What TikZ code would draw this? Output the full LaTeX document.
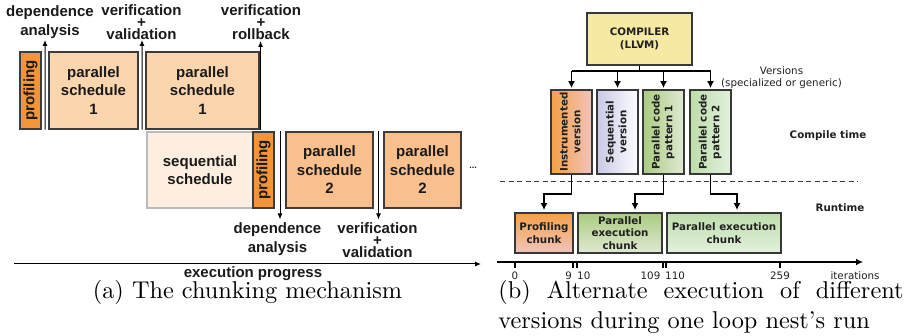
\documentclass[tikz,border=0pt]{standalone}
\usepackage{fontspec}
\newfontfamily\arialike{Liberation Sans}
\newfontfamily\dvs{DejaVu Sans}
\usetikzlibrary{arrows.meta,calc}

% left panel colours
\definecolor{profor}{HTML}{F39436}
\definecolor{parone}{HTML}{FBD5AE}
\definecolor{partwo}{HTML}{F9BF8D}
\definecolor{seqfill}{HTML}{FDEEE0}
\definecolor{seqborder}{HTML}{BBBBBB}
\definecolor{lborder}{HTML}{3C3C3C}
\definecolor{ltext}{HTML}{1A1A1A}
% right panel colours
\definecolor{rborder}{HTML}{383838}
\definecolor{rtext}{HTML}{202020}
\definecolor{compfill}{HTML}{F5E9A3}
\definecolor{instA}{HTML}{F5A048}
\definecolor{instB}{HTML}{F0C4BC}
\definecolor{seqA}{HTML}{C9C9E6}
\definecolor{seqB}{HTML}{FDFDFF}
\definecolor{pOneA}{HTML}{A9CC80}
\definecolor{pOneB}{HTML}{E1E8D3}
\definecolor{pTwoA}{HTML}{BCDDA9}
\definecolor{pTwoB}{HTML}{E3F0DE}

\begin{document}
\begin{tikzpicture}[x=1pt,y=-1pt,
  lbox/.style={draw=lborder, line width=1.1pt, inner sep=0pt, align=center,
    text=ltext, font=\arialike\bfseries\fontsize{15}{18.5}\selectfont},
  ltxt/.style={inner sep=0pt, align=center, text=ltext,
    font=\arialike\bfseries\fontsize{15}{19}\selectfont},
  ltxtv/.style={ltxt, font=\arialike\bfseries\fontsize{15}{12}\selectfont},
  larrow/.style={line width=1pt, -{Latex[length=6pt,width=5pt]}},
  rbox/.style={draw=rborder, line width=1.8pt, inner sep=0pt, align=center,
    text=rtext, font=\dvs\bfseries\fontsize{10.3}{12.6}\selectfont},
  rtxt/.style={inner sep=0pt, text=rtext, font=\dvs\bfseries\fontsize{10.3}{12.6}\selectfont},
  rnote/.style={inner sep=0pt, align=center, text=rtext, font=\dvs\fontsize{10.3}{12.5}\selectfont},
  rarrow/.style={line width=1.8pt, -{Latex[length=7pt,width=7pt]}},
  rline/.style={line width=1.8pt},
  tick/.style={line width=1.5pt},
  caption/.style={inner sep=0pt, scale=2.43}
]
\useasboundingbox (0,0) rectangle (912,336);

% ---------------- (a) chunking mechanism ----------------
\node[lbox, fill=profor, minimum width=21pt, minimum height=77pt] (prof1) at (30.5,90.5)
  {\rotatebox{90}{profiling}};
\node[lbox, fill=parone, minimum width=89pt, minimum height=77pt] (ps1a) at (93.5,90.5)
  {parallel\\schedule\\1};
\node[lbox, fill=parone, minimum width=113pt, minimum height=77pt] (ps1b) at (202.5,90.5)
  {parallel\\schedule\\1};

\node[lbox, draw=seqborder, fill=seqfill, minimum width=106pt, minimum height=76pt] (seq) at (200,170)
  {sequential\\schedule};
\node[lbox, fill=profor, minimum width=21pt, minimum height=76pt] (prof2) at (263.5,170)
  {\rotatebox{90}{profiling}};
\node[lbox, fill=partwo, minimum width=87pt, minimum height=76pt] (ps2a) at (329.5,170)
  {parallel\\schedule\\2};
\node[lbox, fill=partwo, minimum width=77pt, minimum height=76pt] (ps2b) at (422.5,170)
  {parallel\\schedule\\2};
\node[inner sep=0pt, text=ltext, font=\arialike\bfseries\fontsize{9}{9}\selectfont] (more) at (473,168) {...};

% check points above the first row
\node[ltxt, anchor=south] (dep1) at (50,39) {dependence\\analysis};
\node[ltxtv, anchor=south] (ver1) at (141.5,40) {verification\\+\\validation};
\node[ltxtv, anchor=south] (ver2) at (261,40) {verification\\+\\rollback};
\draw[larrow] ($(prof1.south east)!0.5!(ps1a.south west)$) -- (45,40);
\draw[larrow] ($(ps1a.south east)!0.5!(ps1b.south west)$) -- (142,40);
\draw[larrow] ([xshift=1pt]ps1b.south east) -- ([xshift=1pt]ps1b.south east |- 0,41);

% check points below the second row
\node[ltxt, anchor=north] (dep2) at (277.5,222.5) {dependence\\analysis};
\node[ltxtv, anchor=north] (ver3) at (377.5,222.5) {verification\\+\\validation};
\draw[larrow] ($(prof2.north east)!0.5!(ps2a.north west)$) -- ++(0,88);
\draw[larrow] ($(ps2a.north east)!0.5!(ps2b.north west)$) -- ++(0,88);

% time axis
\coordinate (progA) at (14,264);
\coordinate (progB) at (481,264);
\draw[line width=1pt, -{Latex[length=6pt,width=5pt]}] (progA) -- (progB);
\node[ltxt, anchor=base] (prog) at (253,278) {execution progress};

\node[caption, anchor=base] (capa) at (247.5,299) {(a) The chunking mechanism};

% ---------------- (b) alternate execution ----------------
\node[rbox, fill=compfill, minimum width=105pt, minimum height=52pt] (comp) at (639.5,39)
  {COMPILER\\(LLVM)};
\node[rnote, anchor=north] (vers) at (781.5,66) {Versions\\(specialized or generic)};

\node[rbox, left color=instA, right color=instB, minimum width=41pt, minimum height=84pt] (inst) at (571.5,132)
  {\rotatebox{90}{\begin{tabular}{@{}c@{}}Instrumented\\version\end{tabular}}};
\node[rbox, left color=seqA, right color=seqB, minimum width=41pt, minimum height=84pt] (seqv) at (617.5,132)
  {\rotatebox{90}{\begin{tabular}{@{}c@{}}Sequential\\version\end{tabular}}};
\node[rbox, left color=pOneA, right color=pOneB, minimum width=41pt, minimum height=84pt] (pat1) at (663.5,132)
  {\rotatebox{90}{\begin{tabular}{@{}c@{}}Parallel code\\pattern 1\end{tabular}}};
\node[rbox, left color=pTwoA, right color=pTwoB, minimum width=41pt, minimum height=84pt] (pat2) at (710.5,132)
  {\rotatebox{90}{\begin{tabular}{@{}c@{}}Parallel code\\pattern 2\end{tabular}}};

\coordinate (bus) at (639.5,71);
\draw[rline] (comp.south) -- (bus);
\draw[rline] (inst.north |- bus) -- (pat2.north |- bus);
\foreach \v in {inst,seqv,pat1,pat2}
  \draw[rarrow] (\v.north |- bus) -- ([yshift=1pt]\v.north);

\node[rtxt, anchor=base] (ctime) at (828,139) {Compile time};
\draw[line width=1pt, draw=rborder, dash pattern=on 5pt off 3.5pt] (500,182) -- (858,182);
\node[rtxt, anchor=base] (rtime) at (840,212) {Runtime};

\node[rbox, top color=instA, bottom color=instB, minimum width=58pt, minimum height=40pt] (pchunk) at (544,233)
  {Profiling\\chunk};
\node[rbox, top color=pOneA, bottom color=pOneB, minimum width=84pt, minimum height=40pt] (ex1) at (620,233)
  {Parallel\\execution\\chunk};
\node[rbox, top color=pTwoA, bottom color=pTwoB, minimum width=114pt, minimum height=40pt] (ex2) at (724,233)
  {Parallel execution\\chunk};

\draw[rarrow] (inst.south) -- ++(0,19) -| ([yshift=2pt]pchunk.north);
\draw[rarrow] (pat1.south) -- ++(0,19) -| ([xshift=15pt,yshift=2pt]ex1.north);
\draw[rarrow] (pat2.south) -- ++(0,19) -| ([xshift=13pt,yshift=2pt]ex2.north);

% iteration axis
\coordinate (itA) at (497,262);
\coordinate (itB) at (863,262);
\draw[rarrow] (itA) -- (itB);
\foreach \t in {515,573,577,663,666,780}
  \draw[tick] (\t,262) -- (\t,268.5);
\node[rnote, anchor=base] (i0) at (515,280) {0};
\node[rnote, anchor=base east] (i9) at (572,280) {9};
\node[rnote, anchor=base west] (i10) at (577,280) {10};
\node[rnote, anchor=base east] (i109) at (660.5,280) {109};
\node[rnote, anchor=base west] (i110) at (665,280) {110};
\node[rnote, anchor=base] (i259) at (780,280) {259};
\node[rnote, anchor=base] (iter) at (855,280) {iterations};

\node[caption, anchor=base west] (capb) at (498,299)
  {\makebox[166.7pt][s]{(b) Alternate execution of different}};
\node[caption, anchor=base west] (capc) at (498,328)
  {versions during one loop nest's run};
\end{tikzpicture}
\end{document}
